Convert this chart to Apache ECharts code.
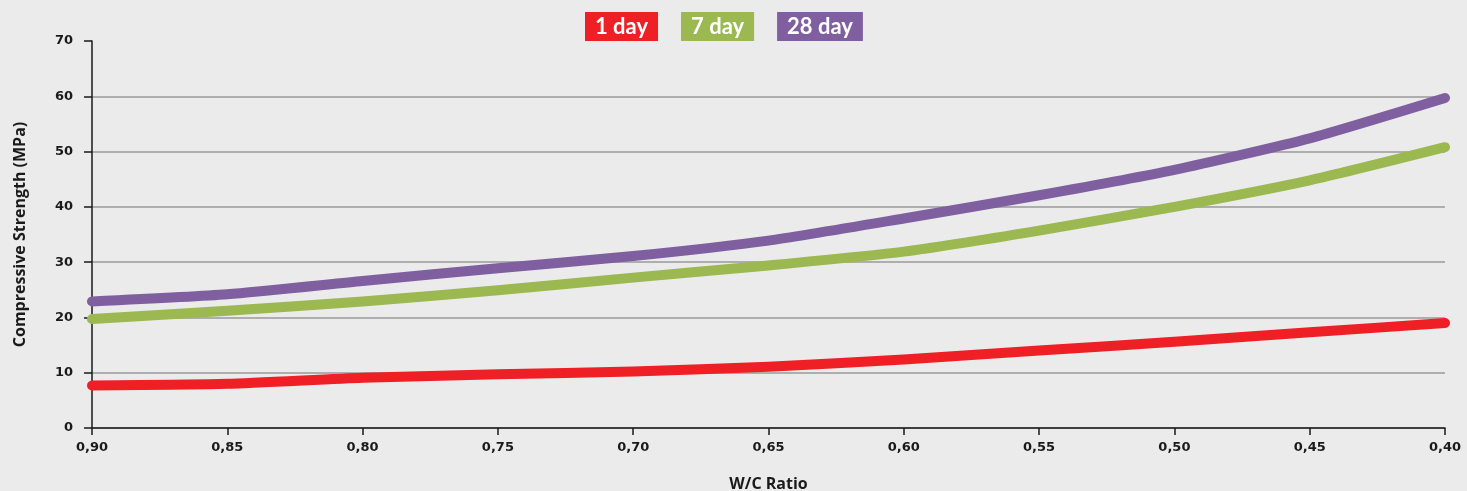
<!DOCTYPE html>
<html lang="en">
<head>
  <meta charset="UTF-8">
  <title>Compressive Strength vs W/C Ratio</title>
  <style>
    * { margin: 0; padding: 0; }
    body { background: #ebebeb; overflow: hidden; }
    #chart { width: 1467px; height: 491px; }
  </style>
</head>
<body>
  <div id="chart"></div>
  <script src="https://cdn.jsdelivr.net/npm/echarts@6/dist/echarts.min.js"></script>
  <script>
    // W/C ratio categories (left to right, decreasing)
    const ratios = ['0,90', '0,85', '0,80', '0,75', '0,70', '0,65', '0,60', '0,55', '0,50', '0,45', '0,40'];

    // compressive strength in MPa
    const day1 = [7.7, 8.0, 9.1, 9.7, 10.2, 11.1, 12.4, 14.0, 15.6, 17.3, 19.0];
    const day7 = [19.7, 21.2, 22.9, 24.9, 27.2, 29.4, 31.9, 35.7, 40.0, 44.8, 50.8];
    const day28 = [22.9, 24.2, 26.6, 28.9, 31.1, 33.9, 37.9, 42.1, 46.7, 52.4, 59.7];

    const seriesNames = ['1 day', '7 day', '28 day'];
    const seriesColors = ['#ee1f25', '#9bb851', '#7f5fa0'];

    const chart = echarts.init(document.getElementById('chart'));

    const makeLine = (name, data, color) => ({
      name: name,
      type: 'line',
      data: data,
      smooth: 0.2,
      symbol: 'none',
      lineStyle: { width: 10, color: color, cap: 'round', join: 'round' },
      itemStyle: { color: color }
    });

    const labelFont = { color: '#1a1a1a', fontFamily: 'DejaVu Sans', fontWeight: 'bold', fontSize: 13 };
    const nameFont = { color: '#1a1a1a', fontFamily: 'Open Sans', fontWeight: 'bold', fontSize: 16 };

    chart.setOption({
      backgroundColor: '#ebebeb',
      animation: false,
      legend: {
        top: 7,
        left: 575,
        itemWidth: 0,
        itemHeight: 0,
        itemGap: 18,
        icon: 'rect',
        data: seriesNames.map((n, i) => ({
          name: n,
          textStyle: {
            color: '#fff',
            backgroundColor: seriesColors[i],
            fontFamily: 'Lato',
            fontSize: 22,
            fontWeight: 'bold',
            padding: [2, 10, 2, 10],
            lineHeight: 25
          }
        }))
      },
      grid: { left: 92, right: 22, top: 41, bottom: 63, outerBoundsMode: 'none' },
      xAxis: {
        type: 'category',
        data: ratios,
        boundaryGap: false,
        name: 'W/C Ratio',
        nameLocation: 'middle',
        nameGap: 48,
        nameTextStyle: nameFont,
        axisLine: { lineStyle: { color: '#1a1a1a', width: 1.5 } },
        axisTick: { alignWithLabel: true, length: 7, lineStyle: { color: '#1a1a1a', width: 1.5 } },
        axisLabel: Object.assign({}, labelFont, { margin: 13 }),
        splitLine: { show: false }
      },
      yAxis: {
        type: 'value',
        min: 0,
        max: 70,
        interval: 10,
        name: 'Compressive Strength (MPa)',
        nameLocation: 'middle',
        nameGap: 64,
        nameTextStyle: nameFont,
        axisLine: { show: true, lineStyle: { color: '#1a1a1a', width: 1.5 } },
        axisTick: { show: true, length: 8, lineStyle: { color: '#1a1a1a', width: 1.5 } },
        axisLabel: Object.assign({}, labelFont, { margin: 19 }),
        splitLine: { show: true, showMaxLine: false, lineStyle: { color: '#9a9a9a', width: 1.5 } }
      },
      series: [
        makeLine(seriesNames[0], day1, seriesColors[0]),
        makeLine(seriesNames[1], day7, seriesColors[1]),
        makeLine(seriesNames[2], day28, seriesColors[2])
      ]
    });
  </script>
</body>
</html>
